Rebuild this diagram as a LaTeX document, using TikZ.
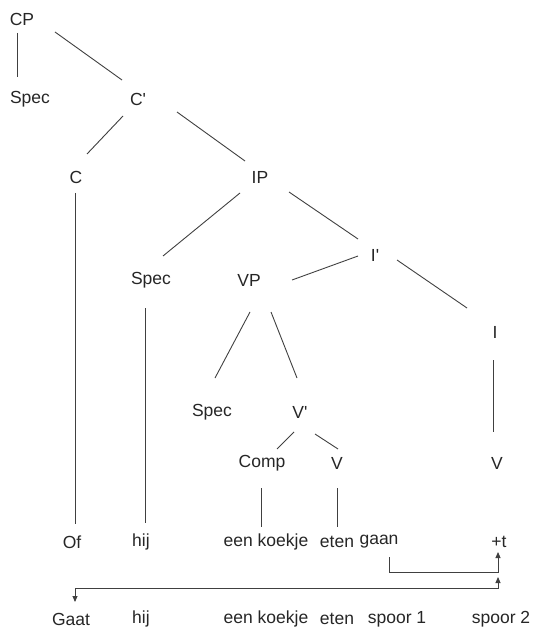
\documentclass[tikz,border=0pt]{standalone}
\usepackage{fontspec}
\newfontfamily\treefont{Liberation Sans}
\usetikzlibrary{calc,arrows.meta}
\begin{document}
\begin{tikzpicture}[x=1pt,y=-1pt,
  lab/.style={inner sep=0pt,anchor=center,text=black!85,font=\treefont\fontsize{17.5}{20}\selectfont},
  edge/.style={draw=black!75,line width=0.9pt},
  mv/.style={draw=black!75,line width=0.9pt,-{Triangle[length=6pt,width=5pt]}},
  mv2/.style={draw=black!75,line width=0.9pt,{Triangle[length=6pt,width=5pt]}-{Triangle[length=6pt,width=5pt]}}]
\useasboundingbox (0,0) rectangle (534,628);
% nodes
\node[lab] (CP) at (22,19) {CP};
\node[lab] (Spec1) at (30,99) {Spec};
\node[lab] (Cb) at (138,99) {C'};
\node[lab] (C) at (76,177) {C};
\node[lab] (IP) at (260,177) {IP};
\node[lab] (Spec2) at (151,280) {Spec};
\node[lab] (VP) at (249,280) {VP};
\node[lab] (Ib) at (375,255) {I'};
\node[lab] (I) at (495,332) {I};
\node[lab] (Spec3) at (212,412) {Spec};
\node[lab] (Vb) at (300,412) {V'};
\node[lab] (Comp) at (262,463) {Comp};
\node[lab] (Vm) at (337,463) {V};
\node[lab] (Vr) at (497,463) {V};
\node[lab] (Of) at (72,542) {Of};
\node[lab] (hij) at (141,542) {hij};
\node[lab] (koekje) at (266,542) {een koekje};
\node[lab] (eten) at (337,542) {eten};
\node[lab] (gaan) at (379,542) {gaan};
\node[lab] (t) at (499,542) {+t};
\node[lab] (Gaat) at (71,619) {Gaat};
\node[lab] (hij2) at (141,619) {hij};
\node[lab] (koekje2) at (266,619) {een koekje};
\node[lab] (eten2) at (337,619) {eten};
\node[lab] (spoor1) at (397,619) {spoor 1};
\node[lab] (spoor2) at (501,619) {spoor 2};
% tree edges
\draw[edge] ($(CP)+(-5,14)$) -- ($(Spec1)+(-13,-22)$);
\draw[edge] ($(CP)+(33,13)$) -- ($(Cb)+(-16,-19)$);
\draw[edge] ($(Cb)+(-15,17)$) -- ($(C)+(11,-23)$);
\draw[edge] ($(Cb)+(39,13)$) -- ($(IP)+(-15,-16)$);
\draw[edge] ($(C)+(-1,16)$) -- ($(Of)+(3,-18)$);
\draw[edge] ($(IP)+(-20,16)$) -- ($(Spec2)+(12,-24)$);
\draw[edge] ($(IP)+(29,15)$) -- ($(Ib)+(-17,-16)$);
\draw[edge] ($(Ib)+(-17,1)$) -- ($(VP)+(43,0)$);
\draw[edge] ($(Ib)+(22,5)$) -- ($(I)+(-28,-24)$);
\draw[edge] ($(Spec2)+(-6,28)$) -- ($(hij)+(4,-19)$);
\draw[edge] ($(VP)+(1,32)$) -- ($(Spec3)+(3,-34)$);
\draw[edge] ($(VP)+(22,32)$) -- ($(Vb)+(-3,-34)$);
\draw[edge] ($(I)+(-2,28)$) -- ($(Vr)+(-4,-31)$);
\draw[edge] ($(Vb)+(-6,20)$) -- ($(Comp)+(15,-14)$);
\draw[edge] ($(Vb)+(15,22)$) -- ($(Vm)+(1,-14)$);
\draw[edge] ($(Comp)+(-1,25)$) -- ($(koekje)+(-5,-15)$);
\draw[edge] ($(Vm)+(0,25)$) -- ($(eten)+(0,-15)$);
% movement arrows
\draw[mv] ($(gaan)+(10,15)$) |- ($(t)+(-1,30)$) -- ($(t)+(-1,10)$);
\draw[mv2] ($(t)+(-1,35)$) -- ($(t)+(-1,46)$) -| ($(Gaat)+(4,-17)$);
\end{tikzpicture}
\end{document}
